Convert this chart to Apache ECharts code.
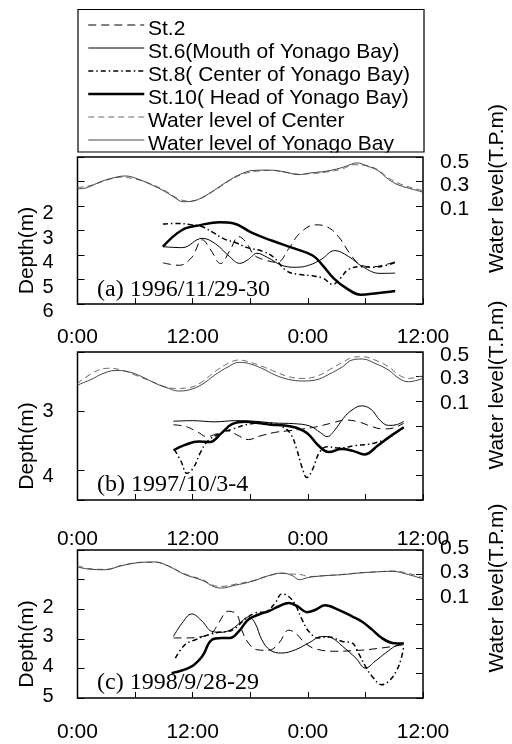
<!DOCTYPE html>
<html>
<head>
<meta charset="utf-8">
<script src="https://cdn.jsdelivr.net/npm/echarts@6/dist/echarts.min.js"></script>
<style>
  html, body { margin: 0; padding: 0; background: #fff; }
  #chart { width: 512px; height: 744px; }
</style>
</head>
<body>
<div id="chart"></div>
<script>
// time in hours from 0:00 of the first day, depth in m, water level in T.P.m
var timeTicks = [0, 12, 24, 36];
var timeLabels = ['0:00', '12:00', '0:00', '12:00'];
var depthLabelsA = [2, 3, 4, 5, 6];
var depthLabelsB = [3, 4];
var depthLabelsC = [2, 3, 4, 5];
var levelLabels = [0.1, 0.3, 0.5];
var panelLabels = ['(a) 1996/11/29-30', '(b) 1997/10/3-4', '(c) 1998/9/28-29'];
var names = ['St.2', 'St.6(Mouth of Yonago Bay)', 'St.8( Center of Yonago Bay)',
  'St.10( Head of Yonago Bay)', 'Water level of Center', 'Water level of Yonago Bay'];

// (a) 1996/11/29-30
var st2A = [[8.9,4.32],[10.6,4.42],[11.9,4.1],[13,3.38],[13.9,3.8],[14.9,4.35],[15.9,3.8],[16.8,3.25],[17.6,3.5],[18.4,4.0],[19.5,4.2],[20.8,4.3],[22,3.75],[23.2,3.1],[24.8,2.77],[26,2.85],[27.2,3.25],[28.4,3.95],[29.5,4.4],[30.8,4.48],[32,4.4],[33.1,4.28]];
var st6A = [[8.9,3.66],[10.9,3.7],[13,3.32],[14.4,3.55],[15.8,4.05],[16.9,4.34],[17.8,4.18],[18.7,3.93],[19.8,4.1],[21.5,4.45],[22.8,4.5],[24.1,4.42],[25.4,4.18],[26.8,3.82],[28.2,4.05],[29.8,4.5],[31.5,4.75],[33.1,4.74]];
var st8A = [[8.9,2.73],[10.3,2.71],[11.8,2.76],[13,2.85],[14.2,3.1],[15.3,3.35],[16.5,3.5],[17.7,3.7],[19.3,3.85],[20.4,4.08],[21.8,4.65],[23.2,4.8],[24.5,4.85],[25.6,4.95],[26.6,5.2],[27.4,4.95],[28.2,4.6],[29.5,4.48],[30.9,4.5],[32.2,4.42],[33.1,4.3]];
var st10A = [[8.9,3.66],[10.9,2.98],[12.8,2.78],[14.8,2.66],[16.2,2.7],[18.2,3.1],[20.3,3.42],[22.5,3.72],[24.5,4.02],[25.5,4.4],[26.7,4.95],[28,5.35],[29.5,5.62],[31.2,5.56],[33.1,5.47]];
var levelCenterA = [[0,0.25],[1.5,0.27],[3,0.31],[4.5,0.335],[6,0.32],[7.5,0.285],[9,0.23],[10.5,0.16],[11.6,0.14],[12.8,0.16],[14.3,0.228],[15.8,0.305],[17.3,0.362],[18.8,0.385],[20.3,0.39],[21.8,0.373],[23.2,0.36],[24.5,0.365],[26,0.378],[27.5,0.4],[28.8,0.437],[30,0.432],[31.2,0.4],[32.4,0.33],[33.6,0.28],[35,0.245],[36,0.225]];
var levelBayA = [[0,0.24],[1,0.25],[2.3,0.295],[3.5,0.325],[5,0.345],[6.3,0.32],[7.5,0.28],[8.8,0.232],[10,0.176],[11,0.135],[12,0.14],[13,0.17],[14.3,0.232],[15.6,0.3],[17,0.36],[18.3,0.39],[20,0.393],[21.6,0.378],[23,0.356],[24.3,0.37],[25.8,0.383],[27.4,0.41],[28.4,0.437],[29.1,0.452],[30.2,0.425],[31.3,0.39],[32.4,0.318],[33.5,0.27],[35,0.235],[36,0.213]];

// (b) 1997/10/3-4
var st2B = [[10,3.23],[11.3,3.26],[12.5,3.35],[13.5,3.43],[14.5,3.38],[15.6,3.33],[16.6,3.4],[17.8,3.48],[19,3.42],[20.5,3.36],[22,3.33],[23.5,3.3],[25,3.26],[26.5,3.2],[28,3.15],[29.3,3.18],[30.5,3.25],[31.8,3.3],[33,3.28],[34,3.2]];
var st6B = [[10,3.17],[12,3.16],[14.3,3.18],[16.4,3.16],[18.5,3.17],[20.5,3.2],[22.5,3.21],[24.2,3.25],[25.3,3.36],[26,3.43],[26.8,3.32],[27.7,3.12],[28.6,2.98],[29.6,2.91],[30.6,2.97],[31.5,3.15],[32.4,3.24],[33.2,3.23],[34,3.17]];
var st8B = [[10.1,3.65],[10.8,3.85],[11.4,4.05],[12.1,3.95],[12.8,3.7],[13.6,3.5],[14.8,3.38],[16.2,3.3],[17.8,3.22],[19.6,3.2],[21.3,3.26],[22.2,3.38],[22.8,3.62],[23.4,3.95],[23.9,4.12],[24.5,3.98],[25.2,3.7],[26,3.6],[27.2,3.62],[29,3.58],[30.9,3.54],[32.5,3.44],[34,3.27]];
var st10B = [[10,3.66],[11.2,3.57],[12.6,3.51],[13.8,3.52],[15,3.37],[16.1,3.22],[17.5,3.18],[18.8,3.2],[20.2,3.23],[21.6,3.24],[22.8,3.28],[24,3.38],[25.1,3.58],[26.2,3.69],[27.5,3.64],[28.7,3.67],[29.9,3.73],[31.3,3.58],[32.8,3.4],[34,3.27]];
var levelCenterB = [[0,0.246],[1.8,0.34],[3.2,0.368],[4.6,0.354],[6,0.313],[7.8,0.259],[9.1,0.219],[10.2,0.205],[11.6,0.21],[13,0.259],[14.3,0.34],[15.7,0.408],[16.8,0.435],[17.8,0.422],[19.2,0.385],[20.6,0.34],[22,0.3],[23.4,0.286],[24.8,0.3],[26.2,0.354],[27.6,0.416],[28.6,0.454],[29.7,0.462],[31,0.435],[32.4,0.381],[33.5,0.313],[34.5,0.286],[36,0.308]];
var levelBayB = [[0,0.232],[1.5,0.28],[2.5,0.32],[3.9,0.35],[5.3,0.34],[6.7,0.3],[8.1,0.246],[9.5,0.205],[10.5,0.184],[11.6,0.192],[13,0.238],[14.3,0.313],[15.7,0.38],[16.8,0.416],[17.8,0.408],[19.2,0.368],[20.6,0.313],[22,0.278],[23.4,0.265],[24.8,0.273],[26.2,0.319],[27.6,0.38],[28.6,0.435],[29.7,0.443],[31,0.408],[32.4,0.354],[33.5,0.286],[34.5,0.259],[36,0.286]];

// (c) 1998/9/28-29
var st2C = [[10,2.97],[11.6,2.97],[13,2.92],[14,2.8],[14.7,2.47],[15.7,2.07],[16.6,2.18],[17.1,2.69],[17.8,3.14],[18.7,3.37],[19.9,3.39],[21,3.14],[22,2.71],[22.7,2.8],[23.7,3.14],[24.8,3.34],[26.9,3.42],[29.3,3.39],[31.7,3.31],[34,3.2]];
var st6C = [[10,2.92],[10.9,2.47],[11.9,2.16],[13,2.41],[14,2.75],[15,2.78],[16.1,2.67],[17.1,2.41],[17.8,2.26],[18.5,2.47],[19.2,3.03],[20.1,3.39],[21.3,3.48],[22.7,3.37],[24.1,3.14],[25.5,2.92],[26.5,2.97],[27.6,3.25],[29,3.65],[30,3.99],[31,3.76],[32.1,3.48],[33.1,3.25],[34,3.14]];
var st8C = [[10.2,3.65],[11.2,3.2],[12.3,3.03],[13.7,2.86],[14.7,2.78],[16.1,2.71],[17.5,2.33],[18.5,2.13],[19.7,2.07],[20.6,1.79],[21.3,1.48],[22,1.57],[22.7,1.85],[23.4,2.35],[24.1,2.75],[25.1,2.97],[26.2,2.94],[27.6,3.09],[28.6,3.14],[29.3,3.5],[30,3.93],[30.7,4.27],[31.7,4.55],[32.6,4.38],[33.3,4.04],[33.7,3.7],[34,3.25]];
var st10C = [[9.8,4.16],[11.9,3.93],[13,3.59],[14,3.03],[15,2.97],[15.9,2.97],[16.8,2.75],[17.8,2.35],[18.9,2.18],[19.9,2.07],[21,1.9],[22,1.79],[22.9,1.9],[23.9,2.1],[24.8,2.02],[25.8,1.87],[27.2,2.02],[28.6,2.24],[29.7,2.43],[30.7,2.69],[31.7,2.97],[32.8,3.14],[34,3.16]];
var levelCenterC = [[0,0.373],[1.1,0.35],[2.9,0.343],[4.6,0.375],[6.7,0.4],[8.1,0.4],[9.5,0.37],[11.2,0.305],[13,0.26],[14.3,0.21],[15,0.205],[16.4,0.222],[18.2,0.25],[19.9,0.29],[21.3,0.31],[22.4,0.305],[23.3,0.3],[24.1,0.285],[25.8,0.292],[27.6,0.302],[29.3,0.315],[31,0.322],[32.8,0.33],[34.5,0.31],[36,0.275]];
var levelBayC = [[0,0.362],[1.1,0.346],[2.9,0.34],[4.6,0.373],[6.7,0.4],[8.1,0.403],[9.5,0.368],[11.2,0.3],[13,0.254],[14.3,0.2],[15,0.192],[16.4,0.214],[18.2,0.246],[19.9,0.292],[21.3,0.313],[22.4,0.292],[23.1,0.259],[24.1,0.278],[25.8,0.292],[27.6,0.3],[29.3,0.313],[31,0.322],[32.8,0.327],[34.5,0.3],[36,0.265]];

var panelData = [
  [st2A, st6A, st8A, st10A, levelCenterA, levelBayA],
  [st2B, st6B, st8B, st10B, levelCenterB, levelBayB],
  [st2C, st6C, st8C, st10C, levelCenterC, levelBayC]
];

// layout of the three panels; "low" labels sit a few px lower than the rest
var panels = [
  {top: 157, height: 147, dMin: 0, dMax: 6, dLabels: depthLabelsA, dShift: 7.5, dLow: null, lvShift: 3.5, lvLow: 3, xMargin: 23, rightName: 84, labelY: 290},
  {top: 352, height: 148, dMin: 2, dMax: 4.5, dLabels: depthLabelsB, dShift: 0, dLow: 4, lvShift: 2, lvLow: 3, xMargin: 29, rightName: 82, labelY: 485},
  {top: 550, height: 148, dMin: 0, dMax: 5, dLabels: depthLabelsC, dShift: -2, dLow: null, lvShift: -2, lvLow: 0, xMargin: 24, rightName: 72, labelY: 683}
];

var lineStyles = [
  {color: '#000', width: 1, type: [8, 5]},
  {color: '#000', width: 1, type: 'solid'},
  {color: '#000', width: 1.5, type: [5, 3, 1.5, 3]},
  {color: '#000', width: 2.5, type: 'solid'},
  {color: '#6a6a6a', width: 1, type: [6, 4]},
  {color: '#444', width: 1, type: 'solid'}
];

var font = 'Liberation Sans';
// move a label down (s > 0) or up (s < 0) from its tick
function shiftLabel(s) {
  if (s > 0) return {verticalAlign: 'top', lineHeight: 2 * s};
  if (s < 0) return {verticalAlign: 'bottom', lineHeight: -2 * s};
  return {verticalAlign: 'middle'};
}

var grids = [], xAxes = [], yAxes = [], series = [], graphics = [];
panels.forEach(function (p, i) {
  grids.push({
    left: 77.5, width: 345.5, top: p.top, height: p.height,
    show: true, borderColor: '#000', borderWidth: 1.5, backgroundColor: 'transparent',
    outerBoundsMode: 'none', containLabel: false
  });
  xAxes.push({
    type: 'value', gridIndex: i, min: 0, max: 36, interval: 6,
    axisLine: {show: false, onZero: false},
    axisTick: {show: true, inside: true, length: 6, lineStyle: {color: '#000', width: 1}},
    splitLine: {show: false},
    axisLabel: {
      margin: p.xMargin, color: '#000', fontFamily: font, fontSize: 21,
      showMinLabel: true, showMaxLabel: true,
      formatter: function (v) {
        var k = timeTicks.indexOf(v);
        return k < 0 ? '' : timeLabels[k];
      }
    }
  });
  var dl = shiftLabel(p.dShift);
  yAxes.push({
    type: 'value', gridIndex: i, position: 'left', inverse: true,
    min: p.dMin, max: p.dMax, interval: 1,
    name: 'Depth(m)', nameLocation: 'middle', nameGap: 40, nameMoveOverlap: false,
    nameTextStyle: {color: '#000', fontFamily: font, fontSize: 21, padding: [0, 40, 0, 0]},
    axisLine: {show: false, onZero: false},
    axisTick: {show: true, inside: true, length: 7, lineStyle: {color: '#000', width: 1}},
    splitLine: {show: false},
    axisLabel: {
      margin: 24, color: '#000', fontFamily: font, fontSize: 20,
      showMinLabel: true, showMaxLabel: true,
      verticalAlign: dl.verticalAlign, lineHeight: dl.lineHeight,
      rich: {lo: {padding: [12, 0, 0, 0], color: '#000', fontFamily: font, fontSize: 20}},
      formatter: function (v) {
        if (p.dLabels.indexOf(v) < 0) return '';
        return v === p.dLow ? '{lo|' + v + '}' : String(v);
      }
    }
  });
  var ll = shiftLabel(p.lvShift);
  yAxes.push({
    type: 'value', gridIndex: i, position: 'right',
    min: -0.7, max: 0.5, interval: 0.2,
    name: 'Water level(T.P.m)', nameLocation: 'middle', nameGap: 64, nameMoveOverlap: false,
    nameTextStyle: {color: '#000', fontFamily: font, fontSize: 21, padding: [0, 0, 0, p.rightName]},
    axisLine: {show: false, onZero: false},
    axisTick: {show: true, inside: true, length: 7, lineStyle: {color: '#000', width: 1}},
    splitLine: {show: false},
    axisLabel: {
      margin: 17, color: '#000', fontFamily: font, fontSize: 21,
      showMinLabel: true, showMaxLabel: true,
      verticalAlign: ll.verticalAlign, lineHeight: ll.lineHeight,
      rich: {lo: {padding: [p.lvLow, 0, 0, 0], color: '#000', fontFamily: font, fontSize: 21}},
      formatter: function (v) {
        var r = Math.round(v * 10) / 10;
        if (levelLabels.indexOf(r) < 0) return '';
        return (r === 0.5 && p.lvLow) ? '{lo|' + r.toFixed(1) + '}' : r.toFixed(1);
      }
    }
  });
  panelData[i].forEach(function (d, k) {
    var ls = lineStyles[k];
    series.push({
      name: names[k], type: 'line', data: d,
      xAxisIndex: i, yAxisIndex: k < 4 ? 2 * i : 2 * i + 1,
      smooth: 0.4, symbol: 'none', showSymbol: false,
      lineStyle: {color: ls.color, width: ls.width, type: ls.type},
      itemStyle: {color: ls.color},
      z: k < 4 ? 3 : 2
    });
  });
  graphics.push({
    type: 'text', x: 97, y: p.labelY, z: 50,
    style: {text: panelLabels[i], font: '24px "Liberation Serif"', fill: '#000', verticalAlign: 'middle'}
  });
});

// legend frame, with the last row cut by its lower edge as in the original
graphics.push({
  type: 'rect', z: 60, shape: {x: 79, y: 152.5, width: 344, height: 3.5},
  style: {fill: '#fff'}
});
graphics.push({
  type: 'rect', z: 61, shape: {x: 78, y: 9.5, width: 346, height: 142.5},
  style: {fill: 'none', stroke: '#000', lineWidth: 1.2}
});

var legendText = {color: '#000', fontFamily: font, fontSize: 21};
var chart = echarts.init(document.getElementById('chart'), null, {renderer: 'canvas'});
chart.setOption({
  backgroundColor: '#fff',
  animation: false,
  legend: [
    // line samples, sitting a little higher than their labels
    {
      data: names, orient: 'vertical', left: 87, top: 14.5, padding: 0,
      itemWidth: 56, itemHeight: 21, itemGap: 2, selectedMode: false,
      itemStyle: {opacity: 0}, lineStyle: {width: 'inherit'},
      formatter: function () { return ' '; }, textStyle: legendText
    },
    // labels
    {
      data: names, orient: 'vertical', left: 87, top: 18, padding: 0,
      itemWidth: 56, itemHeight: 23, itemGap: 0, selectedMode: false,
      icon: 'rect', itemStyle: {opacity: 0}, textStyle: legendText
    }
  ],
  grid: grids,
  xAxis: xAxes,
  yAxis: yAxes,
  series: series,
  graphic: graphics
});
</script>
</body>
</html>
